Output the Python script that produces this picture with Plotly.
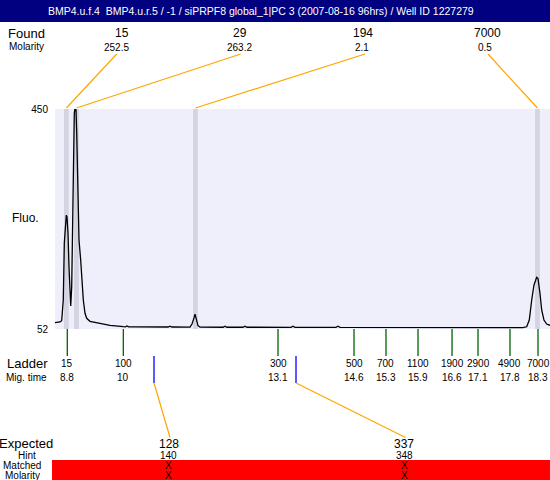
import plotly.graph_objects as go

TITLE = "BMP4.u.f.4  BMP4.u.r.5 / -1 / siPRPF8 global_1|PC 3 (2007-08-16 96hrs) / Well ID 1227279"

# ---- electropherogram trace (migration time, fluorescence) ----
trace_time = [8.589, 8.690, 8.724, 8.736, 8.756, 8.777, 8.797, 8.817, 8.831, 8.851,
              8.871, 8.892, 8.906, 8.926, 8.946, 8.958, 8.978, 8.998, 9.013, 9.027,
              9.047, 9.073, 9.107, 9.134, 9.160, 9.194, 9.228, 9.295, 9.430, 9.698,
              9.967, 10.010, 10.041, 10.075, 10.162, 10.505, 10.870, 10.908, 10.946, 11.312,
              11.352, 11.393, 11.413, 11.433, 11.473, 11.514, 11.980, 12.018, 12.056, 12.380,
              12.421, 12.460, 13.350, 13.389, 13.430, 14.255, 14.297, 14.340, 15.547, 17.161,
              18.022, 18.103, 18.155, 18.204, 18.250, 18.304, 18.330, 18.371, 18.405, 18.451,
              18.506, 18.573]
trace_fluo = [63.4, 64.7, 67, 81, 104.5, 207.6, 243.8, 258, 255, 225.7,
              164.7, 104.5, 93.6, 128.5, 225.7, 345.6, 442, 456, 448, 406.6,
              285, 213, 176.8, 140.6, 104.5, 80.4, 71.4, 65.9, 63.4, 58.7,
              56.2, 56, 57.5, 56, 55.8, 55.8, 55.6, 57.2, 55.6, 55.5,
              61, 72, 79, 72, 58, 55.5, 55.2, 57, 55.2, 55.2,
              57, 55.2, 55, 57, 55, 55, 57, 55, 55, 54.8,
              54.6, 56, 68.3, 104.5, 131.6, 145.5, 143.7, 116.6, 86.4, 68.3,
              61, 58.7]

# ---- found peaks ----
found_size = ["15", "29", "194", "7000"]
found_molarity = ["252.5", "263.2", "2.1", "0.5"]
found_time = [8.818, 9.022, 11.422, 18.320]

# ---- ladder ----
ladder_size = ["15", "100", "300", "500", "700", "1100", "1900", "2900", "4900", "7000"]
ladder_mig_label = ["8.8", "10", "13.1", "14.6", "15.3", "15.9", "16.6", "17.1", "17.8", "18.3"]
ladder_time = [8.837, 9.967, 13.087, 14.620, 15.265, 15.911, 16.597, 17.121, 17.766, 18.331]

# ---- expected ----
expected_size = ["128", "337"]
expected_hint = ["140", "348"]
expected_time = [10.586, 13.450]
matched = ["X", "X"]
matched_molarity = ["X", "X"]

Y_MIN, Y_MAX = 52, 450
X_MIN, X_MAX = 8.589, 18.573

# ---- layout geometry (pixels) ----
W, H = 550, 480
L, T, B = 55, 109, 151
PW, PH = W - L, H - T - B
BAND_HALF = 0.048

FONT = "Liberation Sans, Arial, sans-serif"
ORANGE = "#ffa500"
GREEN = "#006400"


def xp_t(t):
    return (t - X_MIN) / (X_MAX - X_MIN)


def xp_px(p):
    return (p - L) / PW


def yp(p):
    return (T + PH - p) / PH


# label positions (pixels)
found_size_px = [122, 239.5, 363, 487]
found_mol_px = [116, 239.5, 361.5, 484.5]
found_line_top_px = [116.7, 240.7, 365, 488]
expected_label_px = [168.5, 404]

shapes = []
ann = []


def text(x, y, s, size, color="black", xanchor="center"):
    ann.append(dict(x=x, y=y, xref="paper", yref="paper", text=s, showarrow=False,
                    xanchor=xanchor, yanchor="middle",
                    font=dict(family=FONT, size=size, color=color)))


def line(x0, y0, x1, y1, color, width=1.2):
    shapes.append(dict(type="line", xref="paper", yref="paper", x0=x0, y0=y0, x1=x1, y1=y1,
                       line=dict(color=color, width=width)))


# title bar
shapes.append(dict(type="rect", xref="paper", yref="paper", x0=xp_px(0), x1=1,
                   y0=yp(22), y1=yp(0), fillcolor="#000080", line=dict(width=0), layer="below"))
text(xp_px(261), yp(11), TITLE, 10.5, color="white")

# peak bands
for t in found_time:
    shapes.append(dict(type="rect", xref="x", yref="paper", x0=t - BAND_HALF, x1=t + BAND_HALF,
                       y0=0, y1=1, fillcolor="#d3d3e1", line=dict(width=0), layer="below"))

# found labels + connectors
text(xp_px(26), yp(33), "Found", 13)
text(xp_px(26), yp(46), "Molarity", 10)
for i in range(len(found_size)):
    text(xp_px(found_size_px[i]), yp(33), found_size[i], 12)
    text(xp_px(found_mol_px[i]), yp(47), found_molarity[i], 10)
    line(xp_t(found_time[i]), yp(108), xp_px(found_line_top_px[i]), yp(54), ORANGE)

# y-axis title
text(xp_px(25), yp(218), "Fluo.", 12)

# ladder
text(xp_px(27), yp(363), "Ladder", 13)
text(xp_px(26), yp(377), "Mig. time", 10)
for i in range(len(ladder_size)):
    x = xp_t(ladder_time[i])
    line(x, yp(329), x, yp(356), GREEN, 1.3)
    text(x, yp(363), ladder_size[i], 10)
    text(x, yp(377), ladder_mig_label[i], 10)

# expected
shapes.append(dict(type="rect", xref="paper", yref="paper", x0=xp_px(52), x1=1,
                   y0=yp(480), y1=yp(460), fillcolor="#ff0000", line=dict(width=0)))
text(xp_px(26), yp(443), "Expected", 13)
text(xp_px(27), yp(455), "Hint", 10)
text(xp_px(22), yp(465), "Matched", 10)
text(xp_px(22), yp(475), "Molarity", 10)
for i in range(len(expected_size)):
    x = xp_t(expected_time[i])
    line(x, yp(356), x, yp(383), "#0000ff", 1.3)
    line(x, yp(383), xp_px(expected_label_px[i] + 1.5), yp(437.5), ORANGE)
    text(xp_px(expected_label_px[i]), yp(444), expected_size[i], 12)
    text(xp_px(expected_label_px[i]), yp(455), expected_hint[i], 10)
    text(xp_px(expected_label_px[i]), yp(465), matched[i], 10)
    text(xp_px(expected_label_px[i]), yp(475), matched_molarity[i], 10)

fig = go.Figure()
fig.add_trace(go.Scatter(x=trace_time, y=trace_fluo, mode="lines",
                         line=dict(color="black", width=1.3), hoverinfo="skip"))

fig.update_layout(
    width=W, height=H,
    margin=dict(l=L, r=0, t=T, b=B, pad=0),
    paper_bgcolor="white",
    plot_bgcolor="#efeffb",
    showlegend=False,
    shapes=shapes,
    annotations=ann,
    xaxis=dict(range=[X_MIN, X_MAX], visible=False, fixedrange=True),
    yaxis=dict(range=[Y_MIN, Y_MAX], tickvals=[Y_MIN, Y_MAX], ticktext=["52", "450"],
               showgrid=False, zeroline=False, showline=False, ticks="",
               ticklabelstandoff=6, tickfont=dict(family=FONT, size=10, color="black"),
               fixedrange=True),
    font=dict(family=FONT),
)

fig.write_html("out.html", config={"displayModeBar": False},
               post_script="document.body.style.margin='0';document.body.style.overflow='hidden';")
